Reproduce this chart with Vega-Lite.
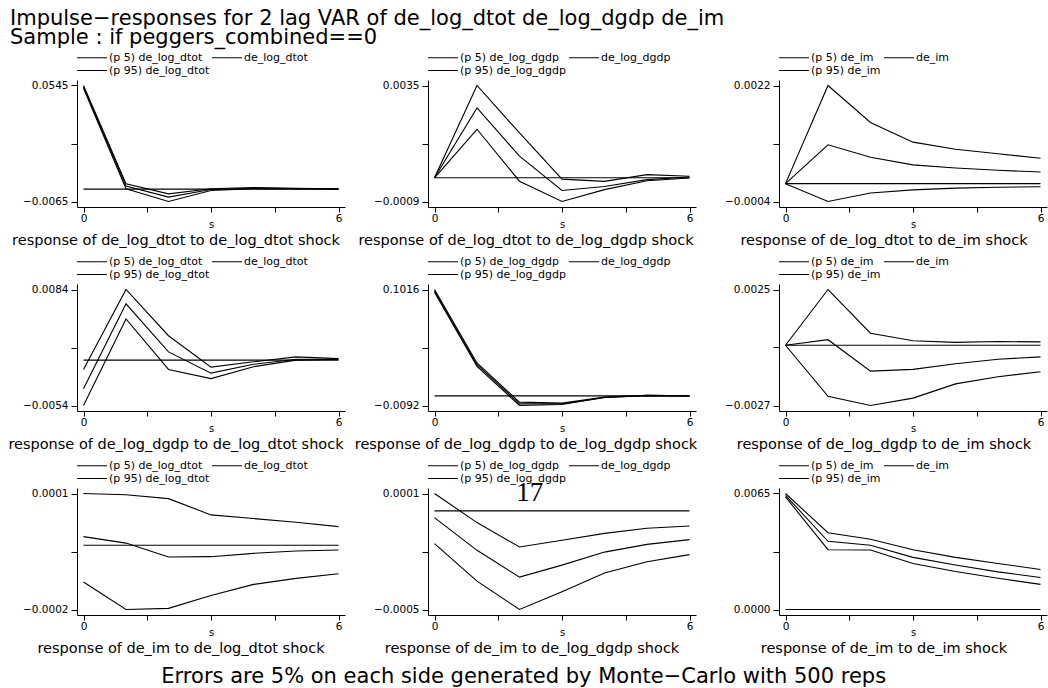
{
  "$schema": "https://vega.github.io/schema/vega-lite/v6.json",
  "autosize": {"type": "none"},
  "padding": {"left": 77, "top": 80, "right": 971, "bottom": 608},
  "background": "white",
  "bounds": "flush",
  "datasets": {
    "irf": [
      {"p": 1, "s": 0, "lo": 0.0531, "mid": 0.0538, "hi": 0.0545},
      {"p": 1, "s": 1, "lo": 0.0002, "mid": 0.0016, "hi": 0.0028},
      {"p": 1, "s": 2, "lo": -0.0065, "mid": -0.0042, "hi": -0.0025},
      {"p": 1, "s": 3, "lo": -0.0007, "mid": -0.0002, "hi": 0.0002},
      {"p": 1, "s": 4, "lo": 0.0002, "mid": 0.0005, "hi": 0.0009},
      {"p": 1, "s": 5, "lo": 0.0001, "mid": 0.0003, "hi": 0.0005},
      {"p": 1, "s": 6, "lo": 0.0, "mid": 0.0001, "hi": 0.0002},
      {"p": 2, "s": 0, "lo": 0, "mid": 0, "hi": 0},
      {"p": 2, "s": 1, "lo": 0.00184, "mid": 0.00265, "hi": 0.0035},
      {"p": 2, "s": 2, "lo": -0.00013, "mid": 0.00082, "hi": 0.0017},
      {"p": 2, "s": 3, "lo": -0.0009, "mid": -0.00048, "hi": -0.00005},
      {"p": 2, "s": 4, "lo": -0.00045, "mid": -0.00033, "hi": -0.000135},
      {"p": 2, "s": 5, "lo": -0.00011, "mid": -0.00007, "hi": 0.00012},
      {"p": 2, "s": 6, "lo": -0.00001, "mid": 0.00003, "hi": 0.000056},
      {"p": 3, "s": 0, "lo": 0, "mid": 0, "hi": 0},
      {"p": 3, "s": 1, "lo": -0.0004, "mid": 0.00087, "hi": 0.0022},
      {"p": 3, "s": 2, "lo": -0.00021, "mid": 0.00059, "hi": 0.00137},
      {"p": 3, "s": 3, "lo": -0.00014, "mid": 0.00042, "hi": 0.00093},
      {"p": 3, "s": 4, "lo": -0.0001, "mid": 0.00035, "hi": 0.00077},
      {"p": 3, "s": 5, "lo": -0.00008, "mid": 0.0003, "hi": 0.00067},
      {"p": 3, "s": 6, "lo": -0.00007, "mid": 0.00026, "hi": 0.00057},
      {"p": 4, "s": 0, "lo": -0.0054, "mid": -0.0034, "hi": -0.00111},
      {"p": 4, "s": 1, "lo": 0.0049, "mid": 0.0067, "hi": 0.0084},
      {"p": 4, "s": 2, "lo": -0.00111, "mid": 0.00098, "hi": 0.0029},
      {"p": 4, "s": 3, "lo": -0.0022, "mid": -0.00155, "hi": -0.00083},
      {"p": 4, "s": 4, "lo": -0.00079, "mid": -0.0005, "hi": -0.0002},
      {"p": 4, "s": 5, "lo": 0.0, "mid": 0.0001, "hi": 0.00038},
      {"p": 4, "s": 6, "lo": 0.0001, "mid": 0.0001, "hi": 0.00018},
      {"p": 5, "s": 0, "lo": 0.099, "mid": 0.1003, "hi": 0.1016},
      {"p": 5, "s": 1, "lo": 0.0282, "mid": 0.0298, "hi": 0.0314},
      {"p": 5, "s": 2, "lo": -0.0092, "mid": -0.0076, "hi": -0.006},
      {"p": 5, "s": 3, "lo": -0.0082, "mid": -0.0076, "hi": -0.0069},
      {"p": 5, "s": 4, "lo": -0.0015, "mid": -0.0015, "hi": -0.0011},
      {"p": 5, "s": 5, "lo": 0.0001, "mid": 0.0005, "hi": 0.0005},
      {"p": 5, "s": 6, "lo": -0.0001, "mid": 0.0, "hi": 0.0},
      {"p": 6, "s": 0, "lo": 0, "mid": 0, "hi": 0},
      {"p": 6, "s": 1, "lo": -0.00229, "mid": 0.00025, "hi": 0.0025},
      {"p": 6, "s": 2, "lo": -0.0027, "mid": -0.00116, "hi": 0.00054},
      {"p": 6, "s": 3, "lo": -0.00237, "mid": -0.00108, "hi": 0.0002},
      {"p": 6, "s": 4, "lo": -0.00173, "mid": -0.00083, "hi": 0.00013},
      {"p": 6, "s": 5, "lo": -0.00141, "mid": -0.00063, "hi": 0.00017},
      {"p": 6, "s": 6, "lo": -0.00119, "mid": -0.00052, "hi": 0.00015},
      {"p": 7, "s": 0, "lo": -0.0000945, "mid": 0.0000223, "hi": 0.0001332},
      {"p": 7, "s": 1, "lo": -0.000165, "mid": 0.0000057, "hi": 0.00013},
      {"p": 7, "s": 2, "lo": -0.000162, "mid": -0.0000301, "hi": 0.00012},
      {"p": 7, "s": 3, "lo": -0.000129, "mid": -0.0000292, "hi": 0.0000782},
      {"p": 7, "s": 4, "lo": -0.0001005, "mid": -0.0000206, "hi": 0.0000688},
      {"p": 7, "s": 5, "lo": -0.000085, "mid": -0.0000146, "hi": 0.0000593},
      {"p": 7, "s": 6, "lo": -0.000073, "mid": -0.000012, "hi": 0.0000481},
      {"p": 8, "s": 0, "lo": -0.000166, "mid": -0.000034, "hi": 0.000088},
      {"p": 8, "s": 1, "lo": -0.000356, "mid": -0.0002, "hi": -0.0000594},
      {"p": 8, "s": 2, "lo": -0.0005, "mid": -0.000336, "hi": -0.000183},
      {"p": 8, "s": 3, "lo": -0.00041, "mid": -0.000275, "hi": -0.000149},
      {"p": 8, "s": 4, "lo": -0.000315, "mid": -0.000209, "hi": -0.000114},
      {"p": 8, "s": 5, "lo": -0.000258, "mid": -0.00017, "hi": -0.0000882},
      {"p": 8, "s": 6, "lo": -0.000222, "mid": -0.000146, "hi": -0.0000764},
      {"p": 9, "s": 0, "lo": 0.00631, "mid": 0.0064, "hi": 0.0065},
      {"p": 9, "s": 1, "lo": 0.00335, "mid": 0.00382, "hi": 0.0043},
      {"p": 9, "s": 2, "lo": 0.00333, "mid": 0.0036, "hi": 0.00394},
      {"p": 9, "s": 3, "lo": 0.00258, "mid": 0.00292, "hi": 0.00335},
      {"p": 9, "s": 4, "lo": 0.00213, "mid": 0.00249, "hi": 0.00292},
      {"p": 9, "s": 5, "lo": 0.00175, "mid": 0.00211, "hi": 0.00258},
      {"p": 9, "s": 6, "lo": 0.00141, "mid": 0.00179, "hi": 0.00224}
    ]
  },
  "title": {
    "text": ["Impulse−responses for 2 lag VAR of de_log_dtot de_log_dgdp de_im", "Sample : if peggers_combined==0"],
    "orient": "top", "anchor": "start", "frame": "group", "dx": -67, "fontSize": 21, "lineHeight": 19, "offset": 4
  },
  "vconcat": [
    {
      "title": {"text": "Errors are 5% on each side generated by Monte−Carlo with 500 reps", "orient": "bottom", "anchor": "middle", "fontSize": 21, "offset": 11, "dx": -4},
      "bounds": "flush",
      "columns": 3,
      "spacing": {"row": 77, "column": 83},
      "resolve": {"scale": {"color": "independent", "x": "independent", "y": "independent"}, "legend": {"color": "independent"}},
      "concat": [
        {
          "width": 268, "height": 127,
          "title": {"text": "response of de_log_dtot to de_log_dtot shock", "dx": -35},
          "data": {"name": "irf"},
          "transform": [{"filter": "datum.p == 1"}, {"fold": ["lo", "mid", "hi"], "as": ["series", "value"]}],
          "layer": [
            {"data": {"values": [{}]}, "mark": {"type": "rule", "color": "black", "strokeWidth": 1.1}, "encoding": {"x": {"datum": 0}, "x2": {"datum": 6}, "y": {"datum": 0}}},
            {"mark": {"type": "line", "strokeWidth": 1.1}, "encoding": {
              "x": {"field": "s", "type": "quantitative", "scale": {"domain": [0, 6], "padding": 6.5, "nice": false, "zero": false}, "axis": {"values": [0, 1.5, 3, 4.5, 6], "labelExpr": "datum.value == 0 || datum.value == 6 ? format(datum.value, 'd') : ''", "title": "s"}},
              "y": {"field": "value", "type": "quantitative", "scale": {"domain": [-0.0065, 0.0545], "padding": 5.5, "nice": false, "zero": false}, "axis": {"values": [-0.0065, 0.00875, 0.024, 0.03925, 0.0545], "labelExpr": "datum.value == -0.0065 || datum.value == 0.0545 ? format(datum.value, '.4f') : ''", "title": null}},
              "color": {"field": "series", "type": "nominal", "scale": {"domain": ["lo", "hi", "mid"], "range": ["black", "black", "black"]}, "legend": {"labelExpr": "datum.value == 'lo' ? '(p 5) de_log_dtot' : datum.value == 'mid' ? 'de_log_dtot' : '(p 95) de_log_dtot'"}}
            }}
          ]
        },
        {
          "width": 268, "height": 127,
          "title": {"text": "response of de_log_dtot to de_log_dgdp shock", "dx": -36},
          "data": {"name": "irf"},
          "transform": [{"filter": "datum.p == 2"}, {"fold": ["lo", "mid", "hi"], "as": ["series", "value"]}],
          "layer": [
            {"data": {"values": [{}]}, "mark": {"type": "rule", "color": "black", "strokeWidth": 1.1}, "encoding": {"x": {"datum": 0}, "x2": {"datum": 6}, "y": {"datum": 0}}},
            {"mark": {"type": "line", "strokeWidth": 1.1}, "encoding": {
              "x": {"field": "s", "type": "quantitative", "scale": {"domain": [0, 6], "padding": 6.5, "nice": false, "zero": false}, "axis": {"values": [0, 1.5, 3, 4.5, 6], "labelExpr": "datum.value == 0 || datum.value == 6 ? format(datum.value, 'd') : ''", "title": "s"}},
              "y": {"field": "value", "type": "quantitative", "scale": {"domain": [-0.0009, 0.0035], "padding": 5.5, "nice": false, "zero": false}, "axis": {"values": [-0.0009, 0.0002, 0.0013, 0.0024, 0.0035], "labelExpr": "datum.value == -0.0009 || datum.value == 0.0035 ? format(datum.value, '.4f') : ''", "title": null}},
              "color": {"field": "series", "type": "nominal", "scale": {"domain": ["lo", "hi", "mid"], "range": ["black", "black", "black"]}, "legend": {"labelExpr": "datum.value == 'lo' ? '(p 5) de_log_dgdp' : datum.value == 'mid' ? 'de_log_dgdp' : '(p 95) de_log_dgdp'"}}
            }}
          ]
        },
        {
          "width": 268, "height": 127,
          "title": {"text": "response of de_log_dtot to de_im shock", "dx": -29},
          "data": {"name": "irf"},
          "transform": [{"filter": "datum.p == 3"}, {"fold": ["lo", "mid", "hi"], "as": ["series", "value"]}],
          "layer": [
            {"data": {"values": [{}]}, "mark": {"type": "rule", "color": "black", "strokeWidth": 1.1}, "encoding": {"x": {"datum": 0}, "x2": {"datum": 6}, "y": {"datum": 0}}},
            {"mark": {"type": "line", "strokeWidth": 1.1}, "encoding": {
              "x": {"field": "s", "type": "quantitative", "scale": {"domain": [0, 6], "padding": 6.5, "nice": false, "zero": false}, "axis": {"values": [0, 1.5, 3, 4.5, 6], "labelExpr": "datum.value == 0 || datum.value == 6 ? format(datum.value, 'd') : ''", "title": "s"}},
              "y": {"field": "value", "type": "quantitative", "scale": {"domain": [-0.0004, 0.0022], "padding": 5.5, "nice": false, "zero": false}, "axis": {"values": [-0.0004, 0.00025, 0.0009, 0.00155, 0.0022], "labelExpr": "datum.value == -0.0004 || datum.value == 0.0022 ? format(datum.value, '.4f') : ''", "title": null}},
              "color": {"field": "series", "type": "nominal", "scale": {"domain": ["lo", "hi", "mid"], "range": ["black", "black", "black"]}, "legend": {"labelExpr": "datum.value == 'lo' ? '(p 5) de_im' : datum.value == 'mid' ? 'de_im' : '(p 95) de_im'"}}
            }}
          ]
        },
        {
          "width": 268, "height": 127,
          "title": {"text": "response of de_log_dgdp to de_log_dtot shock", "dx": -35},
          "data": {"name": "irf"},
          "transform": [{"filter": "datum.p == 4"}, {"fold": ["lo", "mid", "hi"], "as": ["series", "value"]}],
          "layer": [
            {"data": {"values": [{}]}, "mark": {"type": "rule", "color": "black", "strokeWidth": 1.1}, "encoding": {"x": {"datum": 0}, "x2": {"datum": 6}, "y": {"datum": 0}}},
            {"mark": {"type": "line", "strokeWidth": 1.1}, "encoding": {
              "x": {"field": "s", "type": "quantitative", "scale": {"domain": [0, 6], "padding": 6.5, "nice": false, "zero": false}, "axis": {"values": [0, 1.5, 3, 4.5, 6], "labelExpr": "datum.value == 0 || datum.value == 6 ? format(datum.value, 'd') : ''", "title": "s"}},
              "y": {"field": "value", "type": "quantitative", "scale": {"domain": [-0.0054, 0.0084], "padding": 5.5, "nice": false, "zero": false}, "axis": {"values": [-0.0054, -0.00195, 0.0015, 0.00495, 0.0084], "labelExpr": "datum.value == -0.0054 || datum.value == 0.0084 ? format(datum.value, '.4f') : ''", "title": null}},
              "color": {"field": "series", "type": "nominal", "scale": {"domain": ["lo", "hi", "mid"], "range": ["black", "black", "black"]}, "legend": {"labelExpr": "datum.value == 'lo' ? '(p 5) de_log_dtot' : datum.value == 'mid' ? 'de_log_dtot' : '(p 95) de_log_dtot'"}}
            }}
          ]
        },
        {
          "width": 268, "height": 127,
          "title": {"text": "response of de_log_dgdp to de_log_dgdp shock", "dx": -36},
          "data": {"name": "irf"},
          "transform": [{"filter": "datum.p == 5"}, {"fold": ["lo", "mid", "hi"], "as": ["series", "value"]}],
          "layer": [
            {"data": {"values": [{}]}, "mark": {"type": "rule", "color": "black", "strokeWidth": 1.1}, "encoding": {"x": {"datum": 0}, "x2": {"datum": 6}, "y": {"datum": 0}}},
            {"mark": {"type": "line", "strokeWidth": 1.1}, "encoding": {
              "x": {"field": "s", "type": "quantitative", "scale": {"domain": [0, 6], "padding": 6.5, "nice": false, "zero": false}, "axis": {"values": [0, 1.5, 3, 4.5, 6], "labelExpr": "datum.value == 0 || datum.value == 6 ? format(datum.value, 'd') : ''", "title": "s"}},
              "y": {"field": "value", "type": "quantitative", "scale": {"domain": [-0.0092, 0.1016], "padding": 5.5, "nice": false, "zero": false}, "axis": {"values": [-0.0092, 0.0185, 0.0462, 0.0739, 0.1016], "labelExpr": "datum.value == -0.0092 || datum.value == 0.1016 ? format(datum.value, '.4f') : ''", "title": null}},
              "color": {"field": "series", "type": "nominal", "scale": {"domain": ["lo", "hi", "mid"], "range": ["black", "black", "black"]}, "legend": {"labelExpr": "datum.value == 'lo' ? '(p 5) de_log_dgdp' : datum.value == 'mid' ? 'de_log_dgdp' : '(p 95) de_log_dgdp'"}}
            }}
          ]
        },
        {
          "width": 268, "height": 127,
          "title": {"text": "response of de_log_dgdp to de_im shock", "dx": -29},
          "data": {"name": "irf"},
          "transform": [{"filter": "datum.p == 6"}, {"fold": ["lo", "mid", "hi"], "as": ["series", "value"]}],
          "layer": [
            {"data": {"values": [{}]}, "mark": {"type": "rule", "color": "black", "strokeWidth": 1.1}, "encoding": {"x": {"datum": 0}, "x2": {"datum": 6}, "y": {"datum": 0}}},
            {"mark": {"type": "line", "strokeWidth": 1.1}, "encoding": {
              "x": {"field": "s", "type": "quantitative", "scale": {"domain": [0, 6], "padding": 6.5, "nice": false, "zero": false}, "axis": {"values": [0, 1.5, 3, 4.5, 6], "labelExpr": "datum.value == 0 || datum.value == 6 ? format(datum.value, 'd') : ''", "title": "s"}},
              "y": {"field": "value", "type": "quantitative", "scale": {"domain": [-0.0027, 0.0025], "padding": 5.5, "nice": false, "zero": false}, "axis": {"values": [-0.0027, -0.0014, -0.0001, 0.0012, 0.0025], "labelExpr": "datum.value == -0.0027 || datum.value == 0.0025 ? format(datum.value, '.4f') : ''", "title": null}},
              "color": {"field": "series", "type": "nominal", "scale": {"domain": ["lo", "hi", "mid"], "range": ["black", "black", "black"]}, "legend": {"labelExpr": "datum.value == 'lo' ? '(p 5) de_im' : datum.value == 'mid' ? 'de_im' : '(p 95) de_im'"}}
            }}
          ]
        },
        {
          "width": 268, "height": 127,
          "title": {"text": "response of de_im to de_log_dtot shock", "dx": -30},
          "data": {"name": "irf"},
          "transform": [{"filter": "datum.p == 7"}, {"fold": ["lo", "mid", "hi"], "as": ["series", "value"]}],
          "layer": [
            {"data": {"values": [{}]}, "mark": {"type": "rule", "color": "black", "strokeWidth": 1.1}, "encoding": {"x": {"datum": 0}, "x2": {"datum": 6}, "y": {"datum": 0}}},
            {"mark": {"type": "line", "strokeWidth": 1.1}, "encoding": {
              "x": {"field": "s", "type": "quantitative", "scale": {"domain": [0, 6], "padding": 6.5, "nice": false, "zero": false}, "axis": {"values": [0, 1.5, 3, 4.5, 6], "labelExpr": "datum.value == 0 || datum.value == 6 ? format(datum.value, 'd') : ''", "title": "s"}},
              "y": {"field": "value", "type": "quantitative", "scale": {"domain": [-0.000165, 0.0001332], "padding": 5.5, "nice": false, "zero": false}, "axis": {"values": [-0.000165, -0.00009045, -0.0000159, 0.00005865, 0.0001332], "labelExpr": "datum.value == -0.000165 || datum.value == 0.0001332 ? format(datum.value, '.4f') : ''", "title": null}},
              "color": {"field": "series", "type": "nominal", "scale": {"domain": ["lo", "hi", "mid"], "range": ["black", "black", "black"]}, "legend": {"labelExpr": "datum.value == 'lo' ? '(p 5) de_log_dtot' : datum.value == 'mid' ? 'de_log_dtot' : '(p 95) de_log_dtot'"}}
            }}
          ]
        },
        {
          "width": 268, "height": 127,
          "title": {"text": "response of de_im to de_log_dgdp shock", "dx": -30},
          "data": {"name": "irf"},
          "transform": [{"filter": "datum.p == 8"}, {"fold": ["lo", "mid", "hi"], "as": ["series", "value"]}],
          "layer": [
            {"data": {"values": [{}]}, "mark": {"type": "rule", "color": "black", "strokeWidth": 1.1}, "encoding": {"x": {"datum": 0}, "x2": {"datum": 6}, "y": {"datum": 0}}},
            {"mark": {"type": "line", "strokeWidth": 1.1}, "encoding": {
              "x": {"field": "s", "type": "quantitative", "scale": {"domain": [0, 6], "padding": 6.5, "nice": false, "zero": false}, "axis": {"values": [0, 1.5, 3, 4.5, 6], "labelExpr": "datum.value == 0 || datum.value == 6 ? format(datum.value, 'd') : ''", "title": "s"}},
              "y": {"field": "value", "type": "quantitative", "scale": {"domain": [-0.0005, 0.000088], "padding": 5.5, "nice": false, "zero": false}, "axis": {"values": [-0.0005, -0.000353, -0.000206, -0.000059, 0.000088], "labelExpr": "datum.value == -0.0005 || datum.value == 0.000088 ? format(datum.value, '.4f') : ''", "title": null}},
              "color": {"field": "series", "type": "nominal", "scale": {"domain": ["lo", "hi", "mid"], "range": ["black", "black", "black"]}, "legend": {"labelExpr": "datum.value == 'lo' ? '(p 5) de_log_dgdp' : datum.value == 'mid' ? 'de_log_dgdp' : '(p 95) de_log_dgdp'"}}
            }},
            {"data": {"values": [{"page": "17"}]}, "mark": {"type": "text", "font": "Liberation Serif", "fontSize": 27, "baseline": "middle", "align": "center", "color": "black"}, "encoding": {"text": {"field": "page"}, "x": {"datum": 2.24}, "y": {"datum": 0.00009}}}
          ]
        },
        {
          "width": 268, "height": 127,
          "title": {"text": "response of de_im to de_im shock", "dx": -29},
          "data": {"name": "irf"},
          "transform": [{"filter": "datum.p == 9"}, {"fold": ["lo", "mid", "hi"], "as": ["series", "value"]}],
          "layer": [
            {"data": {"values": [{}]}, "mark": {"type": "rule", "color": "black", "strokeWidth": 1.1}, "encoding": {"x": {"datum": 0}, "x2": {"datum": 6}, "y": {"datum": 0}}},
            {"mark": {"type": "line", "strokeWidth": 1.1}, "encoding": {
              "x": {"field": "s", "type": "quantitative", "scale": {"domain": [0, 6], "padding": 6.5, "nice": false, "zero": false}, "axis": {"values": [0, 1.5, 3, 4.5, 6], "labelExpr": "datum.value == 0 || datum.value == 6 ? format(datum.value, 'd') : ''", "title": "s"}},
              "y": {"field": "value", "type": "quantitative", "scale": {"domain": [0, 0.0065], "padding": 5.5, "nice": false, "zero": false}, "axis": {"values": [0, 0.001625, 0.00325, 0.004875, 0.0065], "labelExpr": "datum.value == 0 || datum.value == 0.0065 ? format(datum.value, '.4f') : ''", "title": null}},
              "color": {"field": "series", "type": "nominal", "scale": {"domain": ["lo", "hi", "mid"], "range": ["black", "black", "black"]}, "legend": {"labelExpr": "datum.value == 'lo' ? '(p 5) de_im' : datum.value == 'mid' ? 'de_im' : '(p 95) de_im'"}}
            }}
          ]
        }
      ]
    }
  ],
  "config": {
    "view": {"stroke": null},
    "font": "DejaVu Sans",
    "axis": {
      "grid": false, "domainColor": "black", "tickColor": "black", "labelColor": "black", "titleColor": "black",
      "domainWidth": 1, "tickWidth": 1, "tickSize": 6,
      "labelFont": "DejaVu Sans", "labelFontSize": 10.5, "labelPadding": 3,
      "titleFont": "DejaVu Sans", "titleFontSize": 10, "titleFontWeight": "normal", "titlePadding": -4
    },
    "axisX": {"tickSize": 5, "labelPadding": 1},
    "legend": {
      "orient": "none", "legendX": 9.5, "legendY": -28, "columns": 2, "title": null,
      "symbolType": "M-3,0H3", "symbolSize": 100, "symbolStrokeWidth": 1, "symbolStrokeColor": "black",
      "labelFont": "DejaVu Sans", "labelFontSize": 11, "labelColor": "black", "labelOffset": 11.5,
      "columnPadding": 0, "rowPadding": 1, "padding": 0
    },
    "title": {"font": "DejaVu Sans", "fontWeight": "normal", "color": "black", "fontSize": 14.5, "orient": "bottom", "offset": 4}
  }
}
